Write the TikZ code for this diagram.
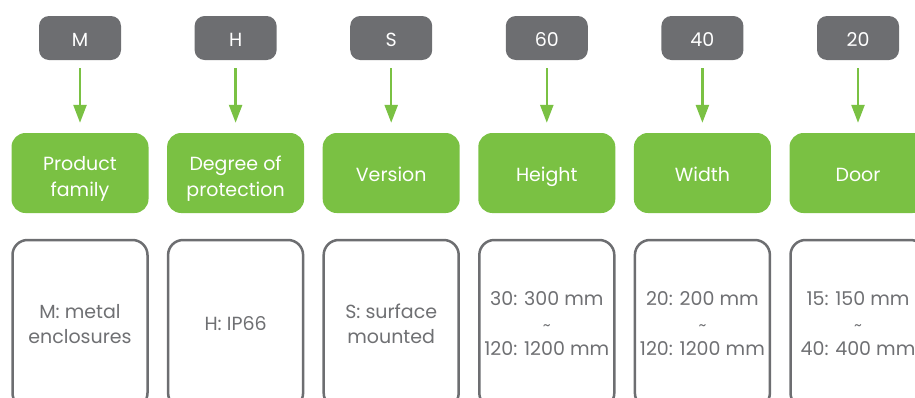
\documentclass[tikz,border=0pt]{standalone}
\usepackage{fontspec}
\setmainfont{Poppins}
\usetikzlibrary{arrows.meta}
\definecolor{codegray}{HTML}{6D6E71}
\definecolor{leafgreen}{HTML}{7AC143}
\definecolor{textgray}{HTML}{6F7073}
% Struts: height minus depth equals the cap height, so caps sit centred;
% the first line may be taller by 2*#1 to push the text #1 pt downwards.
\newcommand{\linestrut}{\rule[-5.3pt]{0pt}{23.9pt}}
\newcommand{\firststrut}[1]{\rule[-5.3pt]{0pt}{\dimexpr23.9pt+2\dimexpr#1pt\relax\relax}}
\newcommand{\tld}{{\fontsize{15}{25}\selectfont\textasciitilde}}

\begin{document}
\begin{tikzpicture}[x=1pt,y=-1pt,
  code/.style={fill=codegray, text=white, rounded corners=10pt,
    minimum width=82pt, minimum height=44pt, inner sep=0pt,
    font=\fontsize{19}{20}\selectfont},
  field/.style={fill=leafgreen, text=white, rounded corners=14pt,
    minimum width=137pt, minimum height=80pt, inner sep=0pt, align=center,
    font=\fontsize{19}{26}\selectfont},
  option/.style={draw=codegray, line width=2.5pt, fill=white, text=textgray,
    rounded corners=15pt, minimum width=135pt, minimum height=168pt,
    inner sep=0pt, align=center, font=\fontsize{19}{25}\selectfont},
  link/.style={draw=leafgreen, line width=2.5pt,
    -{Triangle[width=13pt,length=18pt]}, shorten <=8pt, shorten >=10pt}
]
\useasboundingbox (0,0) rectangle (915,397);
\clip (0,0) rectangle (915,397);

% code letters
\node[code] (c1) at (80,38)    {\firststrut{2}M};
\node[code] (c2) at (235.6,38) {\firststrut{2}H};
\node[code] (c3) at (391.2,38) {\firststrut{2}S};
\node[code] (c4) at (546.8,38) {\firststrut{2}60};
\node[code] (c5) at (702.4,38) {\firststrut{2}40};
\node[code] (c6) at (858,38)   {\firststrut{2}20};

% field names
\node[field] (f1) at (80,173)    {\firststrut{4}Product\\\linestrut family};
\node[field] (f2) at (235.6,173) {\firststrut{4}Degree of\\\linestrut protection};
\node[field] (f3) at (391.2,173) {\firststrut{2}Version};
\node[field] (f4) at (546.8,173) {\firststrut{2}Height};
\node[field] (f5) at (702.4,173) {\firststrut{2}Width};
\node[field] (f6) at (858,173)   {\firststrut{2}Door};

% possible values
\node[option] (o1) at (80,324)    {\linestrut M: metal\\\linestrut enclosures};
\node[option] (o2) at (235.6,324) {\linestrut H: IP66};
\node[option] (o3) at (391.2,324) {\linestrut S: surface\\\linestrut mounted};
\node[option] (o4) at (546.8,324) {\linestrut 30: 300 mm\\\linestrut\tld\\\linestrut 120: 1200 mm};
\node[option] (o5) at (702.4,324) {\linestrut 20: 200 mm\\\linestrut\tld\\\linestrut 120: 1200 mm};
\node[option] (o6) at (858,324)   {\linestrut 15: 150 mm\\\linestrut\tld\\\linestrut 40: 400 mm};

% arrows from code to field
\foreach \i in {1,...,6}
  \draw[link] (c\i) -- (f\i);
\end{tikzpicture}
\end{document}
